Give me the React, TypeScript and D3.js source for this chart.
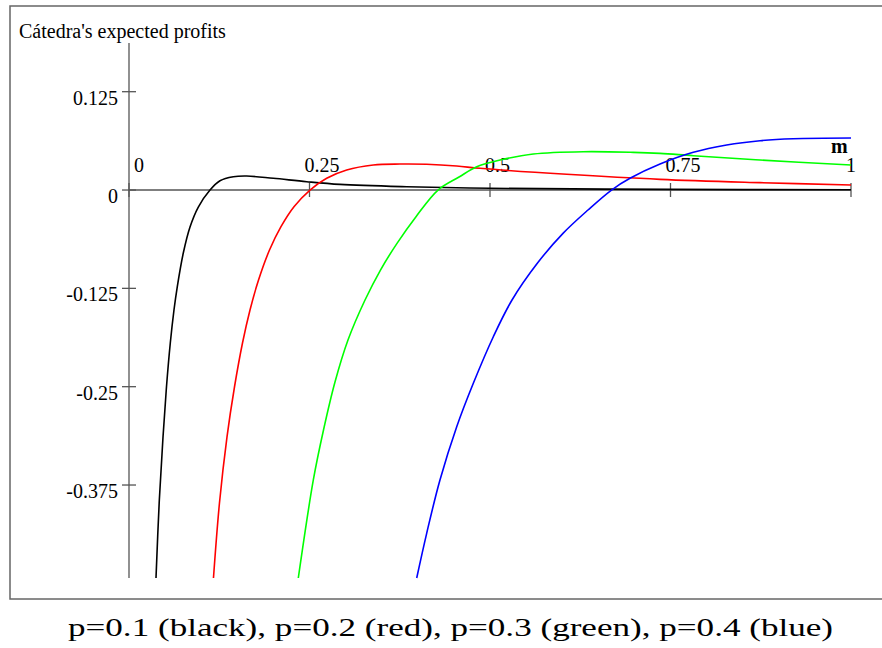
import React, { useEffect, useRef } from 'react';
import * as d3 from 'd3';

// m values and expected profits
const blackM = [0.0374, 0.0418, 0.0471, 0.0519, 0.0572, 0.0623, 0.0668, 0.0752, 0.0845, 0.096, 0.1122, 0.126, 0.1445, 0.163, 0.1999, 0.2461, 0.2922, 0.3846, 0.4539, 0.5, 0.7493, 1];
const blackV = [-0.4932, -0.3979, -0.314, -0.2504, -0.1945, -0.1525, -0.1233, -0.0801, -0.047, -0.0216, 0, 0.0118, 0.0169, 0.0178, 0.0149, 0.0106, 0.0072, 0.0042, 0.0029, 0.0022, 0.0008, 0.0003];

const redM = [0.117, 0.1253, 0.1357, 0.1461, 0.1572, 0.1676, 0.1794, 0.1946, 0.2105, 0.2285, 0.2507, 0.2738, 0.3015, 0.3384, 0.3753, 0.4123, 0.4539, 0.4861, 0.6062, 0.7355, 0.874, 1];
const redV = [-0.4932, -0.3979, -0.314, -0.2504, -0.1945, -0.1525, -0.1144, -0.0763, -0.0466, -0.0212, 0, 0.0149, 0.0254, 0.0318, 0.033, 0.0327, 0.0305, 0.0276, 0.02, 0.0136, 0.0094, 0.0064];

const greenM = [0.2345, 0.2553, 0.2694, 0.2853, 0.3033, 0.3269, 0.3483, 0.3712, 0.3975, 0.428, 0.4571, 0.4816, 0.5139, 0.56, 0.6292, 0.6985, 0.7355, 0.7816, 0.874, 1];
const greenV = [-0.4932, -0.3686, -0.3051, -0.2441, -0.1907, -0.1398, -0.1017, -0.0678, -0.0339, 0, 0.0165, 0.0296, 0.0381, 0.0458, 0.0487, 0.0479, 0.0466, 0.0436, 0.0381, 0.0318];

const blueM = [0.3985, 0.4123, 0.4307, 0.4539, 0.4769, 0.5046, 0.5305, 0.5658, 0.6011, 0.6357, 0.6683, 0.6939, 0.7355, 0.7816, 0.8278, 0.874, 0.9201, 1];
const blueV = [-0.4932, -0.4364, -0.3686, -0.3009, -0.2457, -0.1865, -0.1398, -0.0928, -0.0551, -0.0254, 0, 0.0149, 0.033, 0.0479, 0.0572, 0.0627, 0.0652, 0.0661];

const xTicks = [0, 0.25, 0.5, 0.75, 1];
const xTickLabels = ['0', '0.25', '0.5', '0.75', '1'];
const yTicks = [0.125, 0, -0.125, -0.25, -0.375];
const yTickLabels = ['0.125', '0', '-0.125', '-0.25', '-0.375'];

const seriesColors = ['#000000', '#ff0000', '#00ff00', '#0000ff'];
const caption = 'p=0.1 (black), p=0.2 (red), p=0.3 (green), p=0.4 (blue)';
const yTitle = "Cátedra's expected profits";
const xTitle = 'm';

const App: React.FC = () => {
  const svgRef = useRef<SVGSVGElement>(null);

  useEffect(() => {
    if (!svgRef.current) return;
    const svg = d3.select(svgRef.current);
    svg.selectAll('*').remove();

    const x = d3.scaleLinear().domain([0, 1]).range([129, 851]);
    const y = d3.scaleLinear().domain([-0.4932, 0.1869]).range([578, 43]);
    const axisColor = '#555';
    const font = 'Liberation Serif, DejaVu Serif, serif';

    // outer frame
    svg.append('rect')
      .attr('x', 10).attr('y', 6)
      .attr('width', 884).attr('height', 593)
      .attr('fill', 'none')
      .attr('stroke', '#666')
      .attr('stroke-width', 1.5);

    // y axis
    svg.append('line')
      .attr('x1', x(0)).attr('x2', x(0))
      .attr('y1', y.range()[1]).attr('y2', y.range()[0])
      .attr('stroke', axisColor).attr('stroke-width', 1.3);

    yTicks.forEach((t, i) => {
      svg.append('line')
        .attr('x1', x(0) - 7).attr('x2', x(0) + 7)
        .attr('y1', y(t)).attr('y2', y(t))
        .attr('stroke', axisColor).attr('stroke-width', 1.3);
      svg.append('text')
        .attr('x', x(0) - 11)
        .attr('y', y(t) + 13)
        .attr('text-anchor', 'end')
        .style('font-family', font)
        .style('font-size', '20px')
        .text(yTickLabels[i]);
    });

    // x axis
    svg.append('line')
      .attr('x1', x(0)).attr('x2', x(1))
      .attr('y1', y(0)).attr('y2', y(0))
      .attr('stroke', axisColor).attr('stroke-width', 1.3);

    xTicks.forEach((t, i) => {
      svg.append('line')
        .attr('x1', x(t)).attr('x2', x(t))
        .attr('y1', y(0) - 7).attr('y2', y(0) + 7)
        .attr('stroke', axisColor).attr('stroke-width', 1.3);
      svg.append('text')
        .attr('x', t === 0 ? x(t) + 5 : x(t) - 5)
        .attr('y', y(0) - 18)
        .style('font-family', font)
        .style('font-size', '20px')
        .text(xTickLabels[i]);
    });

    // titles
    svg.append('text')
      .attr('x', 19).attr('y', 38)
      .style('font-family', font)
      .style('font-size', '20px')
      .text(yTitle);

    svg.append('text')
      .attr('x', 831).attr('y', 153)
      .style('font-family', font)
      .style('font-size', '20px')
      .style('font-weight', 'bold')
      .text(xTitle);

    // curves
    const line = d3.line<[number, number]>()
      .x(d => x(d[0]))
      .y(d => y(d[1]))
      .curve(d3.curveCatmullRom.alpha(0.5));

    const series: [number[], number[]][] = [
      [blackM, blackV],
      [redM, redV],
      [greenM, greenV],
      [blueM, blueV],
    ];

    series.forEach(([ms, vs], i) => {
      const pts = ms.map((m, j) => [m, vs[j]] as [number, number]);
      svg.append('path')
        .attr('d', line(pts) || '')
        .attr('fill', 'none')
        .attr('stroke', seriesColors[i])
        .attr('stroke-width', 1.6);
    });

    // caption below the frame
    svg.append('text')
      .attr('x', 68).attr('y', 636)
      .style('font-family', font)
      .style('font-size', '26px')
      .attr('textLength', 765)
      .attr('lengthAdjust', 'spacingAndGlyphs')
      .text(caption);
  }, []);

  return (
    <svg
      ref={svgRef}
      width={882}
      height={648}
      style={{ position: 'absolute', left: 0, top: 0, background: '#fff' }}
    />
  );
};

export default App;
